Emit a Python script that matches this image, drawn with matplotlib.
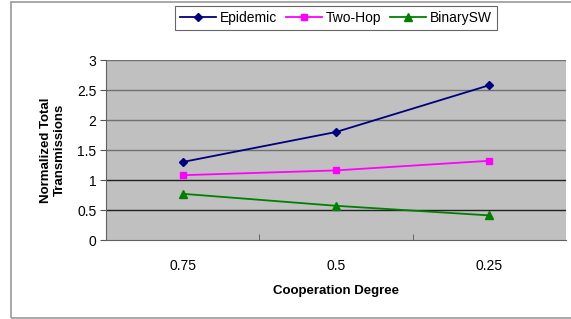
import matplotlib.pyplot as plt
from matplotlib.patches import Rectangle

degrees = ["0.75", "0.5", "0.25"]
epidemic = [1.30, 1.80, 2.58]
two_hop = [1.08, 1.16, 1.32]
binary_sw = [0.77, 0.57, 0.41]

plt.rcParams['font.family'] = ['Liberation Sans', 'DejaVu Sans']

fig = plt.figure(figsize=(5.71, 3.19), dpi=100)
# chart area border
fig.patches.append(Rectangle((11 / 571, 1 / 319), 1.0, 316 / 319, transform=fig.transFigure,
                             fill=False, edgecolor='#9a9a9a', linewidth=1.2))

ax = fig.add_axes([106 / 571, 79 / 319, 460 / 571, 180 / 319])
ax.set_facecolor('#c0c0c0')

x = range(len(degrees))
ax.plot(x, epidemic, color='#000080', marker='D', markersize=4.5, lw=1.3, label='Epidemic')
ax.plot(x, two_hop, color='#ff00ff', marker='s', markersize=5, lw=1.3, label='Two-Hop')
ax.plot(x, binary_sw, color='#008000', marker='^', markersize=5.5, lw=1.3, label='BinarySW')

ax.set_xlim(-0.5, 2.5)
ax.set_ylim(0, 3)
ax.set_yticks([0, 0.5, 1, 1.5, 2, 2.5, 3])
ax.set_yticklabels(['0', '0.5', '1', '1.5', '2', '2.5', '3'])
ax.set_xticks(x)
ax.set_xticklabels(degrees)
ax.set_xticks([0.5, 1.5], minor=True)
ax.tick_params(axis='x', which='major', length=0, pad=14, labelsize=10)
ax.tick_params(axis='x', which='minor', length=4, direction='in', color='#555555')
ax.tick_params(axis='y', length=4, direction='out', color='#555555', labelsize=10, pad=3)

for yv in [1.5, 2, 2.5, 3]:
    ax.axhline(yv, color='#707070', lw=1, zorder=0.5)
for yv in [0.5, 1]:
    ax.axhline(yv, color='#202020', lw=1, zorder=0.5)

for s in ['top', 'right']:
    ax.spines[s].set_visible(False)
ax.spines['left'].set_color('#606060')
ax.spines['bottom'].set_color('#606060')

ax.set_xlabel('Cooperation Degree', fontsize=9.5, fontweight='bold', labelpad=8)
ax.set_ylabel('Normalized Total\nTransmissions', fontsize=9.5, fontweight='bold', labelpad=8)

leg = fig.legend(loc='center', bbox_to_anchor=(336 / 571, 1 - 18 / 319), ncol=3, fontsize=10,
                 frameon=True, fancybox=False, edgecolor='#404040', handlelength=2.6,
                 columnspacing=0.6, handletextpad=0.3, borderpad=0.35)
leg.get_frame().set_linewidth(0.8)

fig.savefig('out.png', dpi=100)
